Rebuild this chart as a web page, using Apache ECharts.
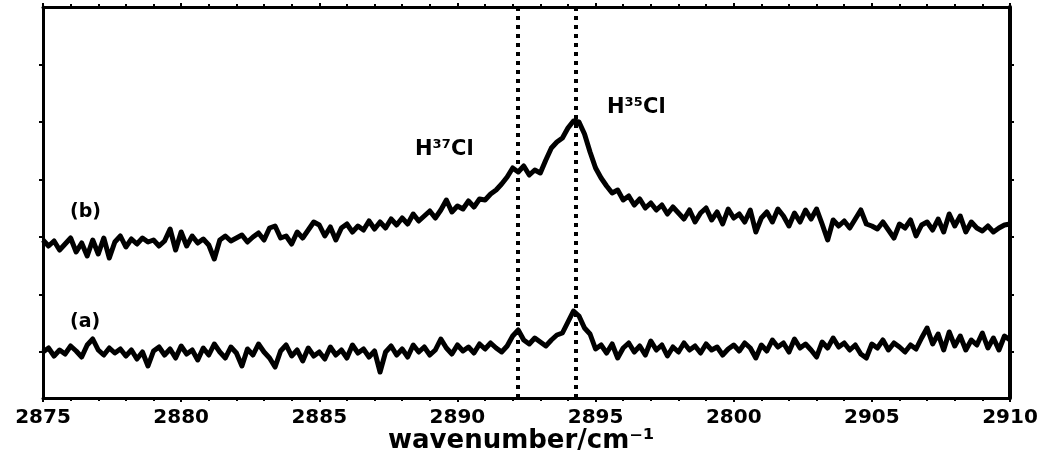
<!DOCTYPE html>
<html>
<head>
<meta charset="utf-8">
<script src="https://cdn.jsdelivr.net/npm/echarts@6/dist/echarts.min.js"></script>
<style>
    html, body { margin: 0; padding: 0; background: #fff; }
    #main { width: 1057px; height: 468px; }
</style>
</head>
<body>
<div id="main"></div>
<script>
// spectra sampled every 0.2 cm-1 from 2875 to 2910
var wnStart = 2875;
var wnStep = 0.2;

var tickLabels = ['2875', '2880', '2885', '2890', '2895', '2800', '2905', '2910'];

var peakLines = [2892.2, 2894.3];

var yTicks = [0.46, 1.035, 1.61, 2.185, 2.76, 3.335];

var traceB = [
    1.58, 1.52, 1.57, 1.48, 1.54, 1.60, 1.46, 1.55, 1.42, 1.58,
    1.44, 1.60, 1.40, 1.56, 1.62, 1.51, 1.59, 1.54, 1.60, 1.56,
    1.58, 1.52, 1.57, 1.69, 1.48, 1.66, 1.52, 1.62, 1.55, 1.59,
    1.53, 1.39, 1.58, 1.62, 1.57, 1.60, 1.63, 1.56, 1.61, 1.65,
    1.58, 1.70, 1.72, 1.60, 1.62, 1.54, 1.66, 1.60, 1.68, 1.76,
    1.73, 1.62, 1.71, 1.58, 1.70, 1.74, 1.66, 1.72, 1.68, 1.77,
    1.69,
    1.76, 1.70, 1.79, 1.73, 1.80, 1.74, 1.84, 1.77, 1.82, 1.87,
    1.80, 1.88, 1.98, 1.86, 1.92, 1.89, 1.97, 1.91, 1.99, 1.98,
    2.04, 2.08, 2.14, 2.21, 2.30, 2.26, 2.32, 2.23, 2.28, 2.25,
    2.38, 2.50, 2.56, 2.60, 2.70, 2.77, 2.76, 2.64, 2.46, 2.30,
    2.20, 2.12, 2.05, 2.08, 1.98, 2.02, 1.93, 1.99, 1.90, 1.95,
    1.88, 1.93, 1.84, 1.91, 1.85,
    1.79, 1.88, 1.76, 1.85, 1.90, 1.78, 1.86, 1.74, 1.89, 1.80,
    1.84, 1.76, 1.88, 1.66, 1.80, 1.86, 1.76, 1.89, 1.82, 1.72,
    1.85, 1.76, 1.88, 1.79, 1.89, 1.74, 1.58, 1.78, 1.72, 1.77,
    1.70, 1.79, 1.88, 1.74, 1.72, 1.69, 1.76, 1.68, 1.60, 1.74,
    1.70, 1.78, 1.62, 1.73, 1.76, 1.68, 1.79, 1.66, 1.84, 1.72,
    1.82, 1.66, 1.76, 1.70, 1.67, 1.72, 1.66, 1.70, 1.73, 1.74
];

var traceA = [
    0.46, 0.50, 0.42, 0.48, 0.44, 0.52, 0.47, 0.41, 0.53, 0.59,
    0.48, 0.43, 0.50, 0.45, 0.49, 0.42, 0.48, 0.39, 0.46, 0.32,
    0.47, 0.51, 0.43, 0.49, 0.40, 0.52, 0.44, 0.48, 0.38, 0.50,
    0.43, 0.54, 0.46, 0.40, 0.51, 0.45, 0.32, 0.49, 0.43, 0.54,
    0.46, 0.40, 0.31, 0.47, 0.53, 0.42, 0.48, 0.37, 0.50, 0.42,
    0.46, 0.39, 0.51, 0.43, 0.48, 0.40, 0.53, 0.45, 0.49, 0.41,
    0.47,
    0.26, 0.46, 0.52, 0.43, 0.49, 0.41, 0.53, 0.46, 0.51, 0.43,
    0.48, 0.59, 0.50, 0.44, 0.53, 0.47, 0.51, 0.45, 0.54, 0.49,
    0.55, 0.50, 0.46, 0.52, 0.62, 0.68, 0.58, 0.54, 0.60, 0.56,
    0.52, 0.58, 0.63, 0.65, 0.76, 0.87, 0.82, 0.70, 0.64, 0.49,
    0.53, 0.45, 0.54, 0.40, 0.50, 0.55, 0.46, 0.52, 0.43, 0.57,
    0.48, 0.53, 0.42, 0.51, 0.46,
    0.55, 0.48, 0.52, 0.45, 0.54, 0.48, 0.51, 0.43, 0.49, 0.53,
    0.47, 0.55, 0.50, 0.40, 0.53, 0.47, 0.58, 0.51, 0.55, 0.46,
    0.59, 0.50, 0.54, 0.48, 0.41, 0.56, 0.50, 0.60, 0.51, 0.55,
    0.48, 0.53, 0.44, 0.40, 0.54, 0.50, 0.58, 0.48, 0.55, 0.51,
    0.46, 0.53, 0.49, 0.60, 0.70, 0.54, 0.64, 0.48, 0.66, 0.52,
    0.62, 0.48, 0.58, 0.53, 0.65, 0.50, 0.60, 0.48, 0.62, 0.58
];

function toPairs(values)
{
    return values.map(function (v, i) {
        return [+(wnStart + i * wnStep).toFixed(1), v];
    });
}

var myChart = echarts.init(document.getElementById('main'), null, { renderer: 'canvas' });

function frameLine(w)
{
    return { show: true, onZero: false, lineStyle: { color: '#000', width: w } };
}
var xTick = { show: true, inside: false, length: 4, lineStyle: { color: '#000', width: 2 } };
var xMinor = { show: true, splitNumber: 5, length: 3, lineStyle: { color: '#000', width: 2 } };
var yTick = { show: true, inside: false, length: 4, customValues: yTicks, lineStyle: { color: '#000', width: 2 } };

var option = {
    animation: false,
    backgroundColor: '#fff',
    grid: { left: 43, right: 47, top: 7, bottom: 70 },
    xAxis: [
        {
            type: 'value',
            position: 'bottom',
            min: 2875,
            max: 2910,
            interval: 5,
            axisLine: frameLine(3),
            axisTick: xTick,
            minorTick: xMinor,
            splitLine: { show: false },
            axisLabel: {
                margin: 10,
                color: '#000',
                fontFamily: 'DejaVu Sans',
                fontWeight: 'bold',
                fontSize: 20,
                formatter: function (v) {
                    return tickLabels[Math.round((v - 2875) / 5)];
                }
            }
        },
        {
            type: 'value',
            position: 'top',
            min: 2875,
            max: 2910,
            interval: 5,
            axisLine: frameLine(3),
            axisTick: xTick,
            minorTick: xMinor,
            splitLine: { show: false },
            axisLabel: { show: false }
        }
    ],
    yAxis: [
        {
            type: 'value',
            position: 'left',
            min: 0,
            max: 3.91,
            axisLine: frameLine(3),
            axisTick: yTick,
            splitLine: { show: false },
            axisLabel: { show: false }
        },
        {
            type: 'value',
            position: 'right',
            min: 0,
            max: 3.91,
            axisLine: frameLine(4),
            axisTick: yTick,
            splitLine: { show: false },
            axisLabel: { show: false }
        }
    ],
    series: [
        {
            name: 'b',
            type: 'line',
            data: toPairs(traceB),
            showSymbol: false,
            lineStyle: { color: '#000', width: 5, join: 'round' }
        },
        {
            name: 'a',
            type: 'line',
            data: toPairs(traceA),
            showSymbol: false,
            lineStyle: { color: '#000', width: 5, join: 'round' },
            markLine: {
                silent: true,
                symbol: 'none',
                label: { show: false },
                lineStyle: { color: '#000', width: 4, type: [4, 5] },
                data: peakLines.map(function (x) { return { xAxis: x }; })
            }
        }
    ],
    graphic: [
        {
            type: 'text', left: 70, top: 203,
            style: { text: '(b)', fill: '#000', font: 'bold 19px "DejaVu Sans"' }
        },
        {
            type: 'text', left: 70, top: 313,
            style: { text: '(a)', fill: '#000', font: 'bold 19px "DejaVu Sans"' }
        },
        {
            type: 'text', left: 415, top: 139,
            style: { text: 'H³⁷Cl', fill: '#000', font: 'bold 21px "DejaVu Sans"' }
        },
        {
            type: 'text', left: 607, top: 97,
            style: { text: 'H³⁵Cl', fill: '#000', font: 'bold 21px "DejaVu Sans"' }
        },
        {
            type: 'text', left: 388, top: 428,
            style: { text: 'wavenumber/cm⁻¹', fill: '#000', font: 'bold 26px "DejaVu Sans"' }
        }
    ]
};

myChart.setOption(option);
window.addEventListener('resize', myChart.resize);
</script>
</body>
</html>
